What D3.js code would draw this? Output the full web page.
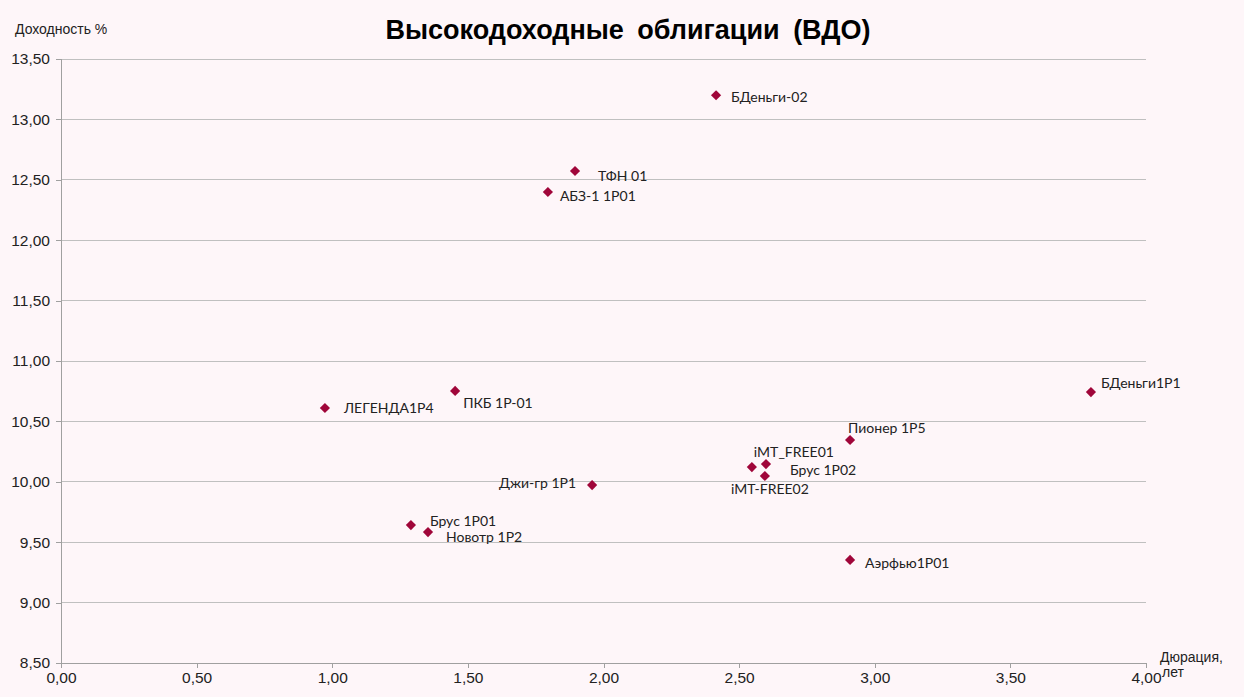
<!DOCTYPE html>
<html><head><meta charset="utf-8">
<script src="https://cdn.jsdelivr.net/npm/d3@7"></script>
<style>
html,body{margin:0;padding:0;background:#FEF6F9;}
svg{display:block;}
</style></head>
<body>
<svg id="chart" width="1244" height="697"></svg>
<script>
const names = ["БДеньги-02","ТФН 01","АБЗ-1 1Р01","ЛЕГЕНДА1Р4","ПКБ 1Р-01","БДеньги1Р1","Пионер 1Р5","iMT_FREE01","Брус 1Р02","iMT-FREE02","Джи-гр 1Р1","Брус 1Р01","Новотр 1Р2","Аэрфью1Р01"];
const duration = [2.415,1.895,1.795,0.973,1.453,3.797,2.909,2.547,2.599,2.595,1.958,1.290,1.353,2.909];
const yieldPct = [13.20,12.573,12.399,10.611,10.752,10.743,10.346,10.122,10.147,10.048,9.973,9.642,9.584,9.353];
const xTicks = [0,0.5,1,1.5,2,2.5,3,3.5,4];
const yTicks = [8.5,9,9.5,10,10.5,11,11.5,12,12.5,13,13.5];
// label placement (style/layout config)
const labelDx = [15,23,12,19,8,10,-2,2,24,-34,-16,19,18,15];
const labelDy = [2,5,4,0,12,-9,-12,-15,6,13,-2,-4,5,3];
const labelAnchor = ["start","start","start","start","start","start","start","start","start","start","end","start","start","start"];

const svg = d3.select("#chart");
const fmt = v => d3.format(".2f")(v).replace(".", ",");
const x = d3.scaleLinear().domain([0,4]).range([61,1146]);
const y = d3.scaleLinear().domain([8.5,13.5]).range([663,59]);

// gridlines
svg.append("g").selectAll("line").data(yTicks.slice(1)).join("line")
  .attr("x1", x(0)).attr("x2", x(4))
  .attr("y1", d=>y(d)).attr("y2", d=>y(d))
  .attr("stroke","#C0C0C0").attr("stroke-width",1).attr("shape-rendering","crispEdges");

const yAxis = svg.append("g").attr("transform",`translate(${x(0)},0)`)
  .call(d3.axisLeft(y).tickValues(yTicks).tickFormat(fmt).tickSize(5).tickPadding(6));
const xAxis = svg.append("g").attr("transform",`translate(0,${y(8.5)})`)
  .call(d3.axisBottom(x).tickValues(xTicks).tickFormat(fmt).tickSize(5).tickPadding(4));
[yAxis,xAxis].forEach(a=>{
  a.selectAll("path,line").attr("stroke","#A0A0A0").attr("shape-rendering","crispEdges");
  a.selectAll("text").attr("font-family","Liberation Sans, Arial, sans-serif").attr("font-size","15.5px").attr("fill","#222");
});

// title
svg.append("text").attr("x",628).attr("y",39).attr("text-anchor","middle")
  .attr("font-family","Liberation Sans, Arial, sans-serif").attr("font-weight","bold")
  .attr("font-size","27px").attr("word-spacing","6px").attr("fill","#000")
  .text("Высокодоходные облигации (ВДО)");
svg.append("text").attr("x",15).attr("y",34)
  .attr("font-family","Liberation Sans, Arial, sans-serif").attr("font-size","14px").attr("fill","#222")
  .text("Доходность %");
svg.append("text").attr("x",1160).attr("y",662)
  .attr("font-family","Liberation Sans, Arial, sans-serif").attr("font-size","14px").attr("fill","#222")
  .text("Дюрация,");
svg.append("text").attr("x",1162).attr("y",677)
  .attr("font-family","Liberation Sans, Arial, sans-serif").attr("font-size","14px").attr("fill","#222")
  .text("лет");

const idx = d3.range(names.length);
const diamond = d3.symbol().type(d3.symbolSquare).size(52);
svg.append("g").selectAll("path").data(idx).join("path")
  .attr("d", diamond)
  .attr("transform", i=>`translate(${x(duration[i])},${y(yieldPct[i])}) rotate(45)`)
  .attr("fill","#A0063A");

svg.append("g").selectAll("text").data(idx).join("text")
  .attr("x", i=>x(duration[i])+labelDx[i])
  .attr("y", i=>y(yieldPct[i])+labelDy[i])
  .attr("dy","0.35em")
  .attr("text-anchor", i=>labelAnchor[i])
  .attr("font-family","Lato, 'Open Sans', sans-serif").attr("font-size","14px").attr("fill","#222")
  .text(i=>names[i]);
</script>
</body></html>
